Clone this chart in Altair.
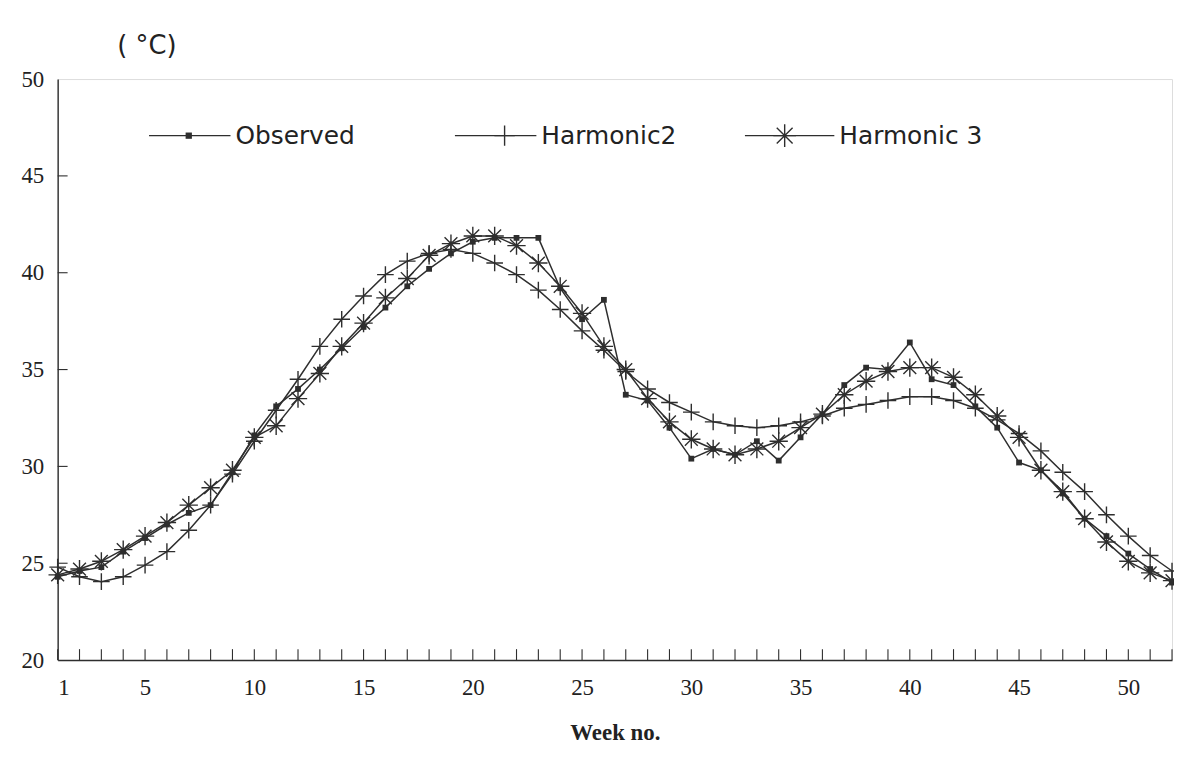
import altair as alt
import pandas as pd

weeks = list(range(1, 53))

observed = [24.3, 24.6, 24.8, 25.6, 26.3, 27.0, 27.6, 28.0, 29.7, 31.6,
            33.1, 34.0, 35.0, 36.1, 37.2, 38.2, 39.3, 40.2, 41.0, 41.6,
            41.8, 41.8, 41.8, 39.2, 37.6, 38.6, 33.7, 33.4, 32.0, 30.4,
            30.9, 30.6, 31.3, 30.3, 31.5, 32.7, 34.2, 35.1, 35.0, 36.4,
            34.5, 34.2, 33.1, 32.0, 30.2, 29.8, 28.6, 27.3, 26.4, 25.5,
            24.7, 24.0]

harmonic2 = [24.8, 24.3, 24.05, 24.3, 24.9, 25.6, 26.7, 28.0, 29.6, 31.3,
             32.9, 34.5, 36.2, 37.6, 38.8, 39.9, 40.6, 41.0, 41.2, 41.0,
             40.5, 39.9, 39.1, 38.1, 37.0, 36.0, 34.9, 34.0, 33.3, 32.8,
             32.3, 32.1, 32.0, 32.1, 32.3, 32.6, 33.0, 33.2, 33.4, 33.6,
             33.6, 33.4, 33.0, 32.4, 31.7, 30.8, 29.7, 28.7, 27.5, 26.4,
             25.4, 24.6]

harmonic3 = [24.4, 24.7, 25.1, 25.7, 26.4, 27.1, 28.0, 28.9, 29.8, 31.5,
             32.1, 33.5, 34.8, 36.2, 37.4, 38.7, 39.7, 40.9, 41.5, 41.9,
             41.9, 41.4, 40.5, 39.3, 37.9, 36.2, 35.0, 33.5, 32.3, 31.4,
             30.9, 30.6, 30.9, 31.3, 32.0, 32.7, 33.7, 34.4, 34.9, 35.1,
             35.1, 34.6, 33.7, 32.6, 31.5, 29.8, 28.7, 27.3, 26.1, 25.1,
             24.5, 24.1]

x_labels = [1, 5, 10, 15, 20, 25, 30, 35, 40, 45, 50]
y_labels = [20, 25, 30, 35, 40, 45, 50]
y_inner_ticks = [25, 30, 35, 40, 45]

series_names = ["Observed", "Harmonic2", "Harmonic 3"]
series_values = [observed, harmonic2, harmonic3]

INK = "#2e2e2e"
PLUS = "M-1,0L1,0M0,-1L0,1"
STAR = "M-1,0L1,0M0,-1L0,1M-0.7,-0.7L0.7,0.7M-0.7,0.7L0.7,-0.7"

W, H = 1122, 585

xscale = alt.Scale(domain=[1, 52], nice=False, zero=False)
yscale = alt.Scale(domain=[20, 50], nice=False, zero=False)

xaxis = alt.Axis(values=x_labels, ticks=False, grid=False, domain=True,
                 domainColor=INK, domainWidth=1.4,
                 labelFont="Liberation Serif", labelFontSize=23, labelColor="#222",
                 labelPadding=17, title="Week no.", titleFont="Liberation Serif",
                 titleFontSize=23, titleFontWeight="bold", titleColor="#222",
                 titlePadding=22)
yaxis = alt.Axis(values=y_labels, ticks=False, grid=False, domain=True,
                 domainColor=INK, domainWidth=1.4,
                 labelFont="Liberation Serif", labelFontSize=23, labelColor="#222",
                 labelPadding=14, title=None)

frames = []
for name, vals in zip(series_names, series_values):
    frames.append(pd.DataFrame({"week": weeks, "temp": vals, "series": name}))
df = pd.concat(frames, ignore_index=True)

layers = []
shapes = {"Observed": ("square", True, 34),
          "Harmonic2": (PLUS, False, 280),
          "Harmonic 3": (STAR, False, 340)}
for name in series_names:
    sub = df[df["series"] == name]
    base = alt.Chart(sub)
    line = base.mark_line(color=INK, strokeWidth=1.5).encode(
        x=alt.X("week:Q", scale=xscale, axis=xaxis),
        y=alt.Y("temp:Q", scale=yscale, axis=yaxis),
    )
    shp, filled, size = shapes[name]
    pts = base.mark_point(shape=shp, filled=filled, size=size, color=INK,
                          strokeWidth=1.4, opacity=1).encode(
        x=alt.X("week:Q", scale=xscale),
        y=alt.Y("temp:Q", scale=yscale),
    )
    layers += [line, pts]

# inward ticks on x axis (every week) and y axis
xt = alt.Chart(pd.DataFrame({"week": weeks})).mark_rule(color=INK, strokeWidth=1.1).encode(
    x=alt.X("week:Q", scale=xscale), y=alt.value(H), y2=alt.value(H - 11))
yt = alt.Chart(pd.DataFrame({"t": y_inner_ticks})).mark_rule(color=INK, strokeWidth=1.1).encode(
    y=alt.Y("t:Q", scale=yscale), x=alt.value(0), x2=alt.value(10))
layers += [xt, yt]

# legend drawn inside the plot
one = pd.DataFrame({"k": [0]})
leg_y = 57
leg = [
    (92, 174, 132, "square", True, 40, "Observed"),
    (400, 482, 450, PLUS, False, 420, "Harmonic2"),
    (692, 782, 732, STAR, False, 520, "Harmonic 3"),
]
for x0, x1, xm, shp, filled, size, label in leg:
    layers.append(alt.Chart(one).mark_rule(color=INK, strokeWidth=1.4).encode(
        x=alt.value(x0), x2=alt.value(x1), y=alt.value(leg_y)))
    layers.append(alt.Chart(one).mark_point(shape=shp, filled=filled, size=size, color=INK,
                                            strokeWidth=1.4, opacity=1).encode(
        x=alt.value(xm), y=alt.value(leg_y)))
    layers.append(alt.Chart(one).mark_text(align="left", baseline="middle", font="DejaVu Sans",
                                           fontSize=25, color="#222").encode(
        x=alt.value(x1 + 5), y=alt.value(leg_y), text=alt.value(label)))

# unit label
layers.append(alt.Chart(one).mark_text(align="left", baseline="middle", font="DejaVu Sans",
                                       fontSize=26, color="#222").encode(
    x=alt.value(60), y=alt.value(-33), text=alt.value("( °C)")))

chart = alt.layer(*layers).properties(
    width=W, height=H,
    autosize=alt.AutoSizeParams(type="none"),
    padding={"left": 50, "top": 69, "right": 2, "bottom": 88},
).configure_view(stroke=INK, strokeWidth=1.4).configure(background="white")

chart.save("out.html", embed_options={"renderer": "svg", "actions": False})
